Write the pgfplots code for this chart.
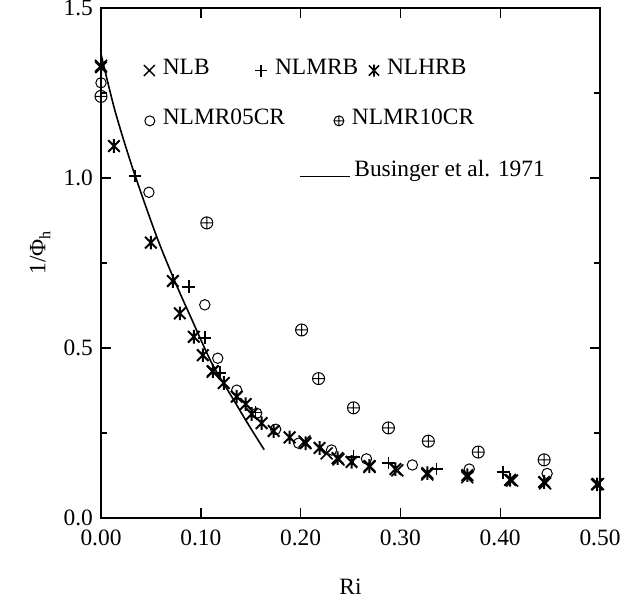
\documentclass[border=0pt]{standalone}
\usepackage{fontspec}
\setmainfont{Liberation Serif}
\usepackage{pgfplots}
\pgfplotsset{compat=1.18}
\pgfdeclareplotmark{xstar}{%
 \pgfpathmoveto{\pgfqpoint{0pt}{-\pgfplotmarksize}}\pgfpathlineto{\pgfqpoint{0pt}{\pgfplotmarksize}}%
 \pgfpathmoveto{\pgfqpoint{-.85\pgfplotmarksize}{-.85\pgfplotmarksize}}\pgfpathlineto{\pgfqpoint{.85\pgfplotmarksize}{.85\pgfplotmarksize}}%
 \pgfpathmoveto{\pgfqpoint{-.85\pgfplotmarksize}{.85\pgfplotmarksize}}\pgfpathlineto{\pgfqpoint{.85\pgfplotmarksize}{-.85\pgfplotmarksize}}%
 \pgfusepathqstroke}
\newcommand{\lmark}[3]{\tikz[baseline=-0.35ex]\draw[line width=#3] (0,0) node[inner sep=0pt]{} plot[mark=#1, mark size=#2] coordinates {(0,0)};\hspace{4pt}}
\begin{document}
\fontsize{11.7}{14}\selectfont
\begin{tikzpicture}
\begin{axis}[
  scale only axis,
  width=249.5pt, height=255pt,
  xmin=0, xmax=0.5, ymin=0, ymax=1.5,
  xtick={0,0.1,0.2,0.3,0.4,0.5},
  xticklabels={0.00,0.10,0.20,0.30,0.40,0.50},
  ytick={0,0.5,1,1.5},
  yticklabels={0.0,0.5,1.0,1.5},
  minor ytick={0.25,0.75,1.25},
  tick align=inside,
  major tick length=5pt, minor tick length=3pt,
  axis line style={line width=0.9pt},
  every tick/.style={black, line width=0.7pt},
  tick label style={font=\fontsize{11.7}{14}\selectfont},
  xticklabel style={yshift=-2pt},
  xlabel={Ri},
  ylabel={1/Φ\raisebox{-0.45ex}{\fontsize{8}{9}\selectfont h}},
  label style={font=\fontsize{11.7}{14}\selectfont},
  every axis x label/.style={at={(axis description cs:0.5,-0.135)}, anchor=center},
  every axis y label/.style={at={(axis description cs:-0.122,0.52)}, rotate=90, anchor=center},
  clip=false,
]
% Businger et al. 1971
\addplot[black, line width=0.8pt, no marks, smooth] coordinates {
 (0,1.365) (0.0139,1.199) (0.0320,1.026) (0.0560,0.826) (0.0746,0.692)
 (0.0893,0.595) (0.1111,0.455) (0.1324,0.350) (0.1464,0.281) (0.1613,0.211) (0.1635,0.201)
};
% NLHRB (asterisk)
\addplot[only marks, mark=xstar, mark size=3.4pt, line width=1pt] coordinates {
 (0,1.326) (0.013,1.094) (0.050,0.81) (0.072,0.697) (0.079,0.602) (0.093,0.533)
 (0.102,0.479) (0.112,0.432) (0.123,0.397) (0.136,0.357) (0.145,0.335) (0.151,0.306)
 (0.161,0.279) (0.173,0.256) (0.189,0.237) (0.205,0.22) (0.219,0.206) (0.237,0.176)
 (0.251,0.165) (0.269,0.153) (0.295,0.144) (0.327,0.132) (0.367,0.126) (0.41,0.112)
 (0.444,0.106) (0.497,0.099)
};
% NLB (x)
\addplot[only marks, mark=x, mark size=4.2pt, line width=0.8pt] coordinates {
 (0,1.33) (0.112,0.43) (0.204,0.225) (0.226,0.19) (0.238,0.172) (0.269,0.15)
 (0.297,0.14) (0.327,0.128) (0.367,0.12) (0.412,0.11) (0.445,0.102) (0.498,0.1)
};
% NLMRB (+)
\addplot[only marks, mark=+, mark size=3.2pt, line width=0.8pt] coordinates {
 (0.034,1.006) (0.088,0.68) (0.104,0.53) (0.119,0.427) (0.155,0.31)
 (0.253,0.18) (0.288,0.162) (0.336,0.144) (0.403,0.135)
};
% NLMR05CR (o)
\addplot[only marks, mark=o, mark size=2.6pt, line width=0.5pt] coordinates {
 (0,1.28) (0.048,0.958) (0.104,0.627) (0.117,0.47) (0.136,0.376) (0.156,0.308)
 (0.175,0.261) (0.198,0.22) (0.231,0.2) (0.266,0.174) (0.312,0.156) (0.369,0.144) (0.447,0.131)
};
% NLMR10CR (oplus)
\addplot[only marks, mark=oplus, mark size=3pt, line width=0.5pt] coordinates {
 (0,1.24) (0.106,0.868) (0.201,0.553) (0.218,0.41) (0.253,0.324) (0.288,0.265)
 (0.328,0.226) (0.378,0.194) (0.444,0.171)
};
% legend
\node[anchor=base west, inner sep=0pt] at (axis cs:0.0425,1.305) {\lmark{x}{3.9pt}{0.7pt}NLB};
\node[anchor=base west, inner sep=0pt] at (axis cs:0.154,1.305) {\lmark{+}{3pt}{0.6pt}NLMRB};
\node[anchor=base west, inner sep=0pt] at (axis cs:0.268,1.305) {\lmark{xstar}{3pt}{0.8pt}NLHRB};
\node[anchor=base west, inner sep=0pt] at (axis cs:0.0435,1.157) {\lmark{o}{2.5pt}{0.5pt}NLMR05CR};
\node[anchor=base west, inner sep=0pt] at (axis cs:0.233,1.157) {\lmark{oplus}{2.5pt}{0.5pt}NLMR10CR};
\draw[line width=0.6pt] (axis cs:0.199,1.005) -- (axis cs:0.249,1.005);
\node[anchor=base west, inner sep=0pt] at (axis cs:0.2535,1.005) {Businger et al. 1971};
\end{axis}
\pgfresetboundingbox
\path[use as bounding box] ([shift={(-50.5pt,-41.5pt)}]current axis.south west) rectangle ([shift={(17pt,4pt)}]current axis.north east);
\end{tikzpicture}
\end{document}
